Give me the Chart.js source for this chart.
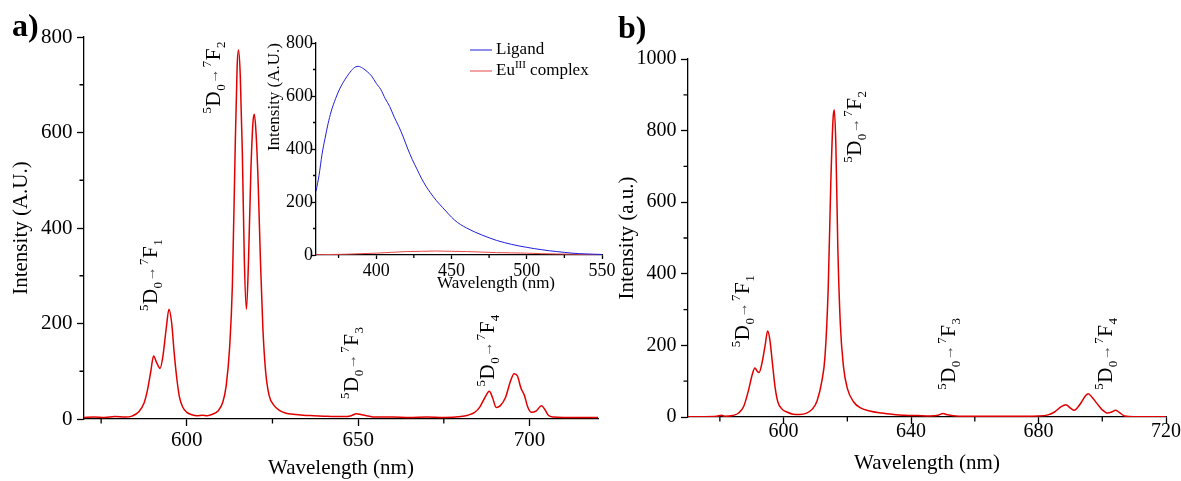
<!DOCTYPE html>
<html>
<head>
<meta charset="utf-8">
<script src="https://cdn.jsdelivr.net/npm/chart.js@4.4.0/dist/chart.umd.min.js"></script>
<style>
html, body { margin: 0; padding: 0; background: #fff; overflow: hidden; }
#wrap { position: relative; width: 1181px; height: 481px; }
canvas { position: absolute; }
</style>
</head>
<body>
<div id="wrap">
  <canvas id="panelA" width="600" height="481" style="left:0;top:0;width:600px;height:481px"></canvas>
  <canvas id="inset" width="370" height="280" style="left:262px;top:20px;width:370px;height:280px"></canvas>
  <canvas id="panelB" width="581" height="481" style="left:600px;top:0;width:581px;height:481px"></canvas>
</div>
<script>
// panel a: emission of the Eu(III) complex
const aWave = [570, 573, 576, 579, 582, 584, 586, 587.5, 588.5, 589.5, 590.3, 591.2, 592.2, 593, 594, 594.8, 595.6, 596.3, 597, 597.8, 598.8,
  600, 601.5, 603, 604.5, 606, 607.5, 609, 610.5, 611.5, 612.5, 613.3, 614.1, 614.7, 615.1, 615.6, 616.2, 616.8, 617.4, 618, 618.7, 619.3,
  619.7, 620.2, 620.8, 621.5, 622.2, 623, 624, 625.5, 627, 629, 631, 634, 637, 640, 643, 646, 648, 649.5, 651, 652.5, 655, 660, 665, 670,
  675, 680, 682, 684, 685.5, 687, 688.3, 689.2, 690.3, 691.5, 693, 694.5, 695.5, 696.5, 697.5, 698.5, 699.5, 700.5, 702, 703.5, 704.5,
  705.5, 707, 710, 715, 720];
const aInt = [3, 4, 3, 5, 4, 6, 15, 33, 60, 100, 132, 118, 106, 130, 190, 230, 200, 140, 90, 48, 25,
  14, 9, 7, 8, 7, 10, 16, 35, 70, 150, 280, 560, 740, 773, 720, 560, 330, 230, 330, 520, 620,
  638, 600, 500, 330, 190, 100, 50, 28, 18, 12, 10, 8, 7, 6, 5, 5, 7, 11, 9, 7, 4, 4, 3, 4,
  3, 5, 8, 14, 25, 45, 58, 45, 24, 28, 45, 80, 95, 90, 65, 50, 25, 14, 17, 28, 20,
  8, 4, 3, 3, 3];

// panel b
const bWave = [570, 575, 579, 580.5, 581.5, 584, 586, 587.5, 589, 590.2, 591, 591.7, 592.3, 593.2, 594.2, 595, 595.7, 596.5, 597.3, 598.2,
  599.5, 601, 603, 605, 607, 609, 610.5, 612, 613, 614, 614.8, 615.5, 615.9, 616.4, 617, 617.8, 618.8, 620, 622, 624, 627, 630, 634, 638,
  642, 646, 648.5, 650, 651.5, 654, 660, 670, 680, 683, 685, 687, 688.6, 690, 691.2, 692.3, 693.5, 694.8, 695.6, 696.8, 698.3, 700,
  701.6, 703, 704.2, 705.3, 707, 710, 715, 720];
const bInt = [1, 1, 2, 5, 2, 4, 12, 30, 75, 120, 137, 128, 124, 150, 200, 240, 215, 150, 85, 42,
  22, 14, 8, 7, 10, 22, 45, 100, 170, 360, 650, 830, 858, 760, 480, 260, 140, 80, 42, 26, 17, 12, 8, 5,
  4, 3, 5, 10, 6, 3, 2, 2, 3, 6, 14, 28, 34, 25, 19, 27, 42, 60, 65, 55, 38, 20,
  11, 14, 19, 13, 3, 1, 1, 1];

// inset: ligand vs complex
const insetWave = [360, 362, 364, 366, 368, 370, 373, 376, 379, 382, 385, 388, 391, 394, 397, 400, 403, 406, 409, 412, 415, 418, 421,
  424, 427, 430, 433, 436, 440, 444, 448, 452, 456, 460, 465, 470, 475, 480, 485, 490, 495, 500, 505, 510, 515, 520, 525, 530, 535,
  540, 545, 550];
const ligandInt = [240, 300, 380, 440, 495, 540, 590, 630, 660, 685, 705, 712, 705, 692, 675, 648, 625, 590, 560, 520, 485, 445, 400,
  360, 325, 290, 260, 235, 205, 180, 155, 132, 115, 102, 88, 76, 65, 55, 47, 40, 34, 29, 24, 20, 16, 13, 10, 7, 5,
  4, 3, 2];
const complexWave = [360, 370, 380, 390, 400, 410, 420, 430, 440, 450, 460, 470, 480, 490, 500, 510, 520, 530, 540, 550];
const complexInt = [1, 2, 3, 5, 7, 10, 13, 14, 15, 14, 13, 11, 9, 8, 7, 5, 4, 3, 2, 2];

// tick values
const aXTicks = [600, 650, 700], aXMinor = [575, 625, 675];
const aYTicks = [0, 200, 400, 600, 800], aYMinor = [100, 300, 500, 700];
const bXTicks = [600, 640, 680, 720], bXMinor = [580, 620, 660, 700];
const bYTicks = [0, 200, 400, 600, 800, 1000], bYMinor = [100, 300, 500, 700, 900];
const inXTicks = [400, 450, 500, 550], inXMinor = [375, 425, 475, 525];
const inYTicks = [0, 200, 400, 600, 800], inYMinor = [100, 300, 500, 700];

const FONT = "'Liberation Serif', 'Times New Roman', serif";
Chart.defaults.font.family = FONT;
Chart.defaults.color = '#000';
Chart.defaults.animation = false;

const pts = (xs, ys) => xs.map((x, i) => ({ x: x, y: ys[i] }));

// rotated "5D0 -> 7Fj" label, starting at (px, py) and reading upwards
function drawTransition(ctx, px, py, j) {
  const segs = [['5', 'sup'], ['D', 'n'], ['0', 'sub'], ['\u2192', 'arr'], ['7', 'sup'], ['F', 'n'], [j, 'sub']];
  const st = {
    n: { size: 21, dy: 0, c: '#000' },
    sup: { size: 13, dy: -9, c: '#000' },
    sub: { size: 13, dy: 5, c: '#000' },
    arr: { size: 15, dy: -2, c: '#555' }
  };
  ctx.save();
  ctx.translate(px, py);
  ctx.rotate(-Math.PI / 2);
  ctx.textBaseline = 'alphabetic';
  ctx.textAlign = 'left';
  let x = 0;
  for (const [t, k] of segs) {
    const s = st[k];
    ctx.font = s.size + 'px ' + FONT;
    ctx.fillStyle = s.c;
    ctx.fillText(t, x, 7 + s.dy);
    x += ctx.measureText(t).width + (k === 'arr' ? 1.5 : 0.5);
  }
  ctx.restore();
}

const decor = {
  id: 'decor',
  afterDraw(chart, args, o) {
    const ctx = chart.ctx;
    const xs = chart.scales.x, ys = chart.scales.y;
    ctx.save();
    ctx.strokeStyle = '#000';
    ctx.lineWidth = 1.3;
    ctx.beginPath();
    (o.xMinor || []).forEach(v => {
      const p = xs.getPixelForValue(v);
      ctx.moveTo(p, xs.top); ctx.lineTo(p, xs.top + o.minorLen);
    });
    (o.yMinor || []).forEach(v => {
      const p = ys.getPixelForValue(v);
      ctx.moveTo(ys.right, p); ctx.lineTo(ys.right - o.minorLen, p);
    });
    ctx.stroke();
    (o.labels || []).forEach(l => drawTransition(ctx, xs.getPixelForValue(l.x), ys.getPixelForValue(l.y), l.j));
    if (o.tag) {
      ctx.font = 'bold 32px ' + FONT;
      ctx.fillStyle = '#000';
      ctx.textBaseline = 'alphabetic';
      ctx.fillText(o.tag.text, o.tag.x, o.tag.y);
    }
    if (o.xTitle) {
      ctx.font = '17px ' + FONT;
      ctx.fillStyle = '#000';
      ctx.textAlign = 'center';
      ctx.textBaseline = 'middle';
      ctx.fillText(o.xTitle.text, o.xTitle.x, o.xTitle.y);
    }
    if (o.legend) {
      const lg = o.legend;
      ctx.textAlign = 'left';
      ctx.textBaseline = 'middle';
      chart.data.datasets.forEach((ds, i) => {
        const y = lg.y + i * lg.gap;
        ctx.strokeStyle = ds.borderColor;
        ctx.lineWidth = 1;
        ctx.beginPath();
        ctx.moveTo(lg.x, y); ctx.lineTo(lg.x + 22, y);
        ctx.stroke();
        ctx.fillStyle = '#000';
        let tx = lg.x + 26;
        ds.label.split('^').forEach((part, k) => {
          if (k % 2 === 1) {
            ctx.font = '11px ' + FONT;
            ctx.fillText(part, tx, y - 6);
          } else {
            ctx.font = '17px ' + FONT;
            ctx.fillText(part, tx, y);
          }
          tx += ctx.measureText(part).width;
        });
      });
    }
    ctx.restore();
  }
};

function axis(o) {
  return {
    type: 'linear',
    min: o.min, max: o.max,
    afterBuildTicks: s => { s.ticks = o.ticks.map(v => ({ value: v })); },
    afterFit: s => {
      if (o.horizontal) { s.height = o.size; s.paddingLeft = 0; s.paddingRight = 0; }
      else { s.width = o.size; s.paddingTop = 0; s.paddingBottom = 0; }
    },
    ticks: { color: '#000', font: { size: o.font }, padding: o.pad, autoSkip: false, maxRotation: 0, callback: v => String(v) },
    grid: { display: true, drawOnChartArea: false, drawTicks: true, tickLength: o.tl, tickColor: '#000', tickWidth: 1.3 },
    border: { display: true, color: '#000', width: 1.3 },
    title: o.title ? { display: true, text: o.title, color: '#000', font: { size: o.titleSize }, align: o.align || 'center', padding: o.titlePad } : { display: false }
  };
}

const lineDs = (label, data, color, w) => ({
  label: label, data: data, borderColor: color, borderWidth: w, pointRadius: 0,
  fill: false, cubicInterpolationMode: 'monotone'
});

new Chart(document.getElementById('panelA'), {
  type: 'line',
  data: { datasets: [lineDs('Eu complex', pts(aWave, aInt), 'rgb(225,0,0)', 1.5)] },
  options: {
    responsive: false,
    layout: { padding: { left: 0, top: 37, right: 2, bottom: 0 } },
    plugins: {
      legend: { display: false }, tooltip: { enabled: false },
      decor: {
        xMinor: aXMinor, yMinor: aYMinor, minorLen: 4.5,
        tag: { text: 'a)', x: 12, y: 36 },
        labels: [{ x: 589.2, y: 226, j: '1' }, { x: 607.6, y: 640, j: '2' }, { x: 647.8, y: 42, j: '3' }, { x: 687.7, y: 68, j: '4' }]
      }
    },
    scales: {
      x: axis({ horizontal: true, min: 570, max: 720, ticks: aXTicks, size: 62, font: 21, pad: 1.4, tl: 7, title: 'Wavelength (nm)', titleSize: 21, titlePad: { top: 0, bottom: 0 } }),
      y: axis({ min: 0, max: 800, ticks: aYTicks, size: 84, font: 21, pad: 4.5, tl: 7, title: 'Intensity (A.U.)', titleSize: 21, titlePad: { top: 9, bottom: 0 } })
    }
  },
  plugins: [decor]
});

new Chart(document.getElementById('inset'), {
  type: 'line',
  data: {
    datasets: [
      lineDs('Ligand', pts(insetWave, ligandInt), 'rgb(30,30,220)', 1),
      lineDs('Eu^III^ complex', pts(complexWave, complexInt), 'rgb(230,70,70)', 1)
    ]
  },
  options: {
    responsive: false,
    layout: { padding: { left: 0, top: 23, right: 30, bottom: 0 } },
    plugins: {
      legend: { display: false }, tooltip: { enabled: false },
      decor: {
        xMinor: inXMinor, yMinor: inYMinor, minorLen: 3,
        xTitle: { text: 'Wavelength (nm)', x: 234, y: 264 },
        legend: { x: 208, y: 30, gap: 21 }
      }
    },
    scales: {
      x: axis({ horizontal: true, min: 360, max: 550, ticks: inXTicks, size: 45, font: 18, pad: 1, tl: 4 }),
      y: axis({ min: 0, max: 800, ticks: inYTicks, size: 54, font: 18, pad: -1, tl: 4, title: 'Intensity (A.U.)', titleSize: 17, align: 'end', titlePad: { top: 2, bottom: 0 } })
    }
  },
  plugins: [decor]
});

new Chart(document.getElementById('panelB'), {
  type: 'line',
  data: { datasets: [lineDs('Eu complex', pts(bWave, bInt), 'rgb(225,0,0)', 1.5)] },
  options: {
    responsive: false,
    layout: { padding: { left: 0, top: 59, right: 15, bottom: 0 } },
    plugins: {
      legend: { display: false }, tooltip: { enabled: false },
      decor: {
        xMinor: bXMinor, yMinor: bYMinor, minorLen: 4.5,
        tag: { text: 'b)', x: 18, y: 38 },
        labels: [{ x: 586.9, y: 195, j: '1' }, { x: 622, y: 710, j: '2' }, { x: 651.5, y: 76, j: '3' }, { x: 700.9, y: 76, j: '4' }]
      }
    },
    scales: {
      x: axis({ horizontal: true, min: 570, max: 720, ticks: bXTicks, size: 64, font: 20, pad: -4, tl: 7, title: 'Wavelength (nm)', titleSize: 21, titlePad: { top: 0, bottom: 5 } }),
      y: axis({ min: 0, max: 1000, ticks: bYTicks, size: 88, font: 20, pad: 4.5, tl: 7, title: 'Intensity (a.u.)', titleSize: 21, titlePad: { top: 15, bottom: 0 } })
    }
  },
  plugins: [decor]
});
</script>
</body>
</html>
